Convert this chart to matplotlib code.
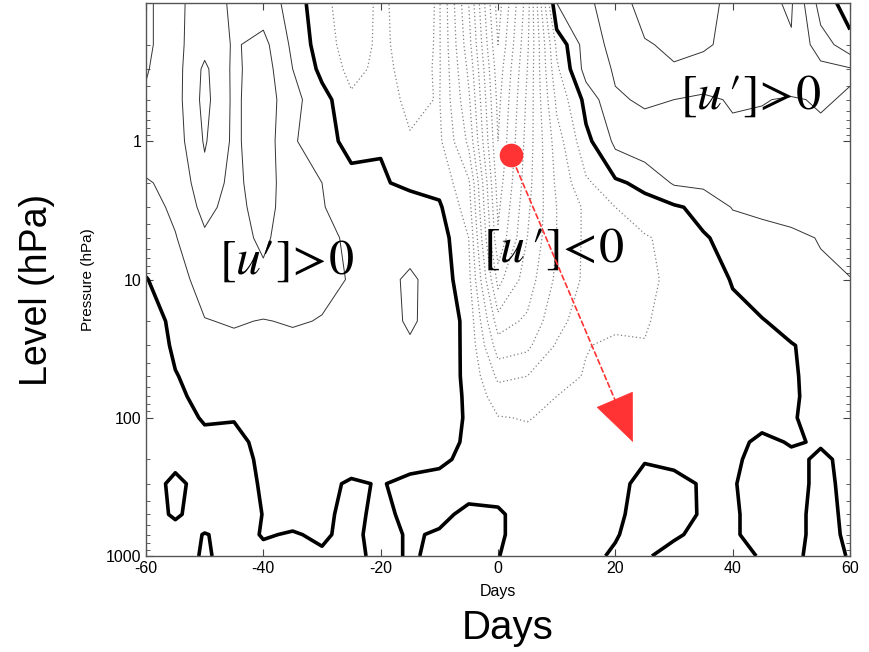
import matplotlib.pyplot as plt
import numpy as np
from matplotlib.ticker import LogLocator, NullLocator, NullFormatter

plt.rcParams['font.family'] = ['Liberation Sans', 'DejaVu Sans']
plt.rcParams['mathtext.fontset'] = 'stix'
plt.rcParams['axes.unicode_minus'] = False

# composite zonal-mean wind anomaly [u']
days = [-60, -55, -50, -45, -40, -35, -30, -25, -20, -15, -10, -5, 0,
        5, 10, 15, 20, 25, 30, 35, 40, 45, 50, 55, 60]
pres = [1000, 700, 500, 300, 200, 150, 100, 70, 50, 30, 20, 10, 5, 3, 2, 1,
        0.5, 0.3, 0.2, 0.1]

u_0p1 = [2.1, 1.7, 2.6, 1.8, 1.6, 0.6, -0.7, -1.6, -0.8, -1.5, -0.9, -5.0, -10.5, -6.5, 1.0, 1.8, 2.5, 3.4, 3.1, 3.5, 2.6, 2.8, 3.1, 0.6, -0.5]
u_0p2 = [2.1, 1.7, 2.7, 1.9, 2.3, 0.8, -0.5, -1.5, -0.8, -1.4, -0.9, -4.6, -10.0, -6.2, -0.8, 1.5, 2.3, 2.9, 3.2, 3.1, 2.8, 3.0, 2.9, 1.5, 0.4]
u_0p3 = [2.05, 1.6, 3.2, 1.8, 2.5, 1.0, -0.25, -1.3, -0.75, -1.3, -0.9, -4.2, -9.6, -6.0, -1.2, 1.4, 2.1, 2.6, 2.9, 2.7, 2.7, 2.9, 2.7, 2.3, 2.1]
u_0p5 = [1.9, 1.6, 3.3, 1.8, 2.6, 1.3, 0.4, -0.8, -0.6, -1.2, -0.95, -3.8, -9.3, -5.8, -1.8, 0.3, 1.9, 2.1, 2.0, 1.8, 2.1, 2.05, 1.9, 2.1, 1.9]
u_1 = [1.5, 1.5, 3.1, 1.8, 2.6, 1.1, 0.5, -0.4, -0.05, -0.9, -0.8, -3.2, -9.0, -5.6, -2.5, -0.3, 1.2, 1.5, 1.6, 1.5, 1.7, 1.6, 1.8, 1.7, 1.8]
u_2 = [0.9, 1.3, 2.6, 1.7, 2.6, 1.25, 1.0, 0.5, 0.1, -0.2, -0.3, -1.8, -8.5, -5.4, -2.8, -1.2, -0.2, 0.3, 1.1, 1.2, 1.3, 1.4, 1.5, 1.45, 1.6]
u_3 = [0.7, 1.15, 2.3, 1.6, 2.5, 1.3, 1.05, 0.6, 0.3, 0.5, 0.15, -1.5, -8.2, -5.2, -3.0, -1.8, -1.0, -0.5, -0.15, 0.3, 1.05, 1.2, 1.3, 1.3, 1.4]
u_5 = [0.5, 0.95, 1.8, 1.6, 2.2, 1.4, 1.15, 0.9, 0.8, 0.7, 0.5, -1.0, -7.8, -5.0, -3.0, -1.8, -1.2, -1.1, -0.7, -0.1, 0.35, 0.6, 0.8, 1.05, 1.2]
u_10 = [-0.05, 0.6, 1.4, 1.5, 1.7, 1.4, 1.2, 0.95, 0.7, 1.15, 0.6, -0.7, -6.3, -4.5, -2.8, -1.8, -1.4, -1.3, -0.7, -0.4, 0.05, 0.4, 0.6, 0.8, 0.98]
u_20 = [-0.4, 0.2, 0.95, 1.1, 0.95, 1.1, 0.95, 0.8, 0.7, 1.1, 0.7, -0.3, -4.5, -3.8, -2.3, -1.5, -1.2, -1.1, -0.6, -0.4, -0.25, -0.05, 0.3, 0.5, 0.7]
u_30 = [-0.6, 0.15, 0.6, 0.7, 0.6, 0.65, 0.6, 0.6, 0.5, 0.9, 0.6, -0.25, -3.5, -3.2, -1.9, -1.05, -0.8, -0.95, -0.5, -0.4, -0.3, -0.2, -0.05, 0.3, 0.5]
u_50 = [-0.8, -0.05, 0.4, 0.5, 0.5, 0.5, 0.5, 0.45, 0.4, 0.5, 0.5, -0.2, -2.2, -2.0, -1.5, -0.9, -0.6, -0.5, -0.4, -0.35, -0.3, -0.2, -0.1, 0.3, 0.5]
u_70 = [-0.9, -0.2, 0.3, 0.4, 0.5, 0.5, 0.5, 0.5, 0.45, 0.45, 0.5, -0.15, -1.5, -1.5, -1.0, -0.7, -0.5, -0.45, -0.4, -0.35, -0.3, -0.2, -0.1, 0.25, 0.4]
u_100 = [-1.0, -0.4, 0.1, 0.05, 0.4, 0.4, 0.4, 0.4, 0.4, 0.4, 0.4, -0.1, -0.95, -1.05, -0.8, -0.6, -0.45, -0.4, -0.35, -0.3, -0.25, -0.2, -0.05, 0.2, 0.3]
u_150 = [-1.0, -0.6, -0.3, -0.3, 0.3, 0.35, 0.35, 0.35, 0.35, 0.35, 0.35, -0.15, -0.6, -0.7, -0.6, -0.5, -0.35, -0.3, -0.3, -0.3, -0.2, 0.15, -0.05, 0.05, 0.2]
u_200 = [-0.9, -0.3, -0.5, -0.4, 0.2, 0.3, 0.3, 0.3, 0.3, 0.25, 0.15, -0.2, -0.45, -0.5, -0.45, -0.4, -0.2, -0.05, -0.2, -0.2, -0.1, 0.2, 0.15, -0.1, 0.15]
u_300 = [-0.6, 0.3, -0.5, -0.4, 0.1, 0.2, 0.2, -0.1, 0.05, -0.2, -0.3, -0.3, -0.25, -0.2, -0.25, -0.2, -0.3, 0.3, 0.3, -0.1, -0.05, 0.3, 0.3, -0.2, 0.2]
u_500 = [-0.5, 0.15, -0.5, -0.4, 0.02, 0.2, 0.15, -0.2, 0.2, -0.2, -0.2, 0.2, 0.1, -0.3, -0.3, -0.2, -0.15, 0.3, 0.35, -0.1, -0.1, 0.3, 0.3, -0.3, 0.2]
u_700 = [-0.5, -0.5, 0.05, -0.3, 0.05, -0.05, 0.1, -0.2, 0.3, -0.1, 0.1, 0.3, 0.1, -0.3, -0.3, -0.2, -0.05, 0.3, 0.1, -0.2, -0.1, 0.3, 0.3, -0.3, 0.15]
u_1000 = [-0.5, -0.4, 0.1, -0.3, -0.2, -0.05, -0.1, -0.3, 0.3, -0.1, 0.2, 0.3, 0.02, -0.3, -0.3, -0.2, 0.1, 0.1, -0.3, -0.3, -0.2, 0.05, 0.2, -0.3, 0.05]

neg_levels = [-12, -11, -10, -9, -8, -7, -6, -5, -4, -3, -2, -1]
pos_levels = [1, 2, 3]

# red marker and arrow (day, hPa)
dot_day, dot_p = 2.2, 1.26
tip_day, tip_p = 23.0, 150

field = np.array([u_1000, u_700, u_500, u_300, u_200, u_150, u_100, u_70, u_50,
                  u_30, u_20, u_10, u_5, u_3, u_2, u_1, u_0p5, u_0p3, u_0p2, u_0p1])

fig = plt.figure(figsize=(8.7, 6.52), dpi=100)
ax = fig.add_axes([146/870, 1-556/652, 704/870, 553/652])

ax.contour(days, pres, field, levels=neg_levels, colors='#808080',
           linewidths=0.9, linestyles=[(0, (1, 2))])
ax.contour(days, pres, field, levels=pos_levels, colors='#333333',
           linewidths=0.7, linestyles='solid')
ax.contour(days, pres, field, levels=[0], colors='black', linewidths=2.6,
           linestyles='solid')

ax.set_yscale('log')
ax.set_ylim(1000, 0.1)
ax.set_xlim(-60, 60)
ax.set_xticks([-60, -40, -20, 0, 20, 40, 60])
ax.xaxis.set_minor_locator(NullLocator())
ax.set_yticks([1, 10, 100, 1000], labels=['1', '10', '100', '1000'])
ax.yaxis.set_minor_locator(LogLocator(base=10, subs=range(2, 10)))
ax.yaxis.set_minor_formatter(NullFormatter())
ax.tick_params(which='both', direction='in', top=True, right=True,
               labelsize=11.5, color='#444444')
ax.tick_params(which='major', length=5)
ax.tick_params(which='minor', length=3)
for s in ax.spines.values():
    s.set_color('#555555')
    s.set_linewidth(1)

ax.set_xlabel('Days', fontsize=11.5, labelpad=6)
ax.set_ylabel('Pressure (hPa)', fontsize=11, labelpad=8)

# annotations
ax.text(-36, 7.4, r"$[u\prime]\!>\!0$", fontsize=36, ha='center', va='center')
ax.text(9.5, 6.0, r"$[u\,\prime]\!<\!0$", fontsize=36, ha='center', va='center')
ax.text(43, 0.47, r"$[u\,\prime]\!>\!0$", fontsize=36, ha='center', va='center')

red = '#ff3333'
ax.plot([dot_day], [dot_p], 'o', color=red, ms=16, zorder=5)
# dashed shaft
ax.annotate('', xy=(tip_day, tip_p), xytext=(dot_day, dot_p),
            arrowprops=dict(arrowstyle='-', linestyle=(0, (3, 2)), color=red,
                            lw=1.2, shrinkA=10, shrinkB=20),
            zorder=5)
# solid head
ax.annotate('', xy=(tip_day, tip_p), xytext=(-1.2, 2.8),
            textcoords='offset points',
            arrowprops=dict(arrowstyle='-|>,head_length=1.3,head_width=0.55',
                            color=red, lw=0.5, mutation_scale=25,
                            shrinkA=0, shrinkB=0),
            zorder=5)

fig.text(508/870, 1-628/652, 'Days', fontsize=29, ha='center', va='center')
fig.text(37/870, 1-290/652, 'Level (hPa)', fontsize=27, ha='center',
         va='center', rotation=90)

fig.savefig('out.png', dpi=100)
